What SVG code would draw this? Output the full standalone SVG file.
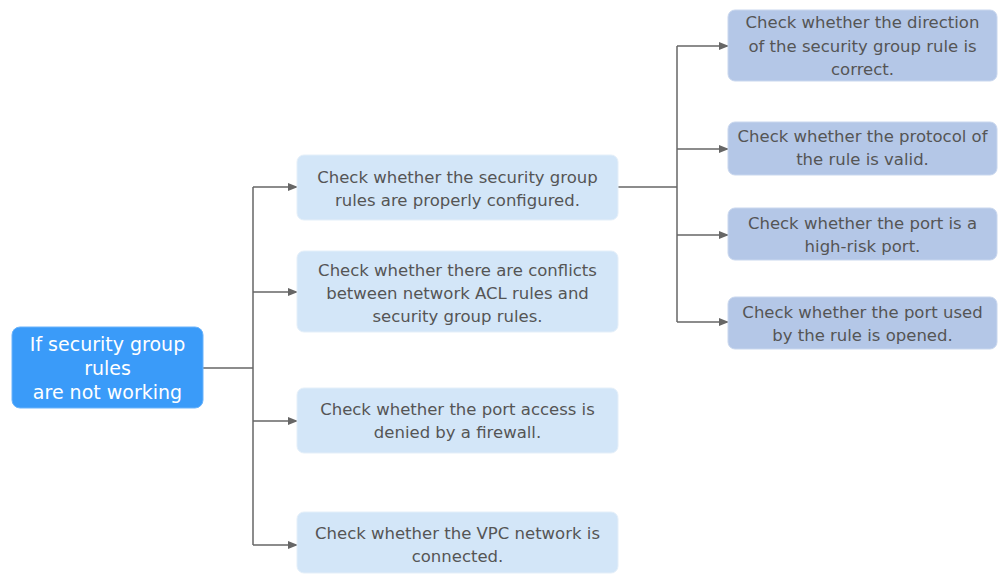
<svg xmlns="http://www.w3.org/2000/svg" width="998" height="575" viewBox="0 0 998 575">
<style>
.root{fill:#3a9bf9;stroke:#6ab3fb;stroke-width:1}
.mid{fill:#d3e6f8;stroke:#e4eff9;stroke-width:1}
.leaf{fill:#b4c7e7;stroke:#c9d7ee;stroke-width:1}
.t{font-family:"DejaVu Sans","Noto Sans",sans-serif;font-size:16.5px;fill:#555555;text-anchor:middle}
.rt{font-family:"DejaVu Sans","Noto Sans",sans-serif;font-size:19px;fill:#ffffff;text-anchor:middle}
.c{fill:none;stroke:#666666;stroke-width:1.5}
</style>
<defs>
<marker id="ah" markerWidth="10" markerHeight="8" refX="9" refY="4" orient="auto" markerUnits="userSpaceOnUse">
<path d="M0,0 L10,4 L0,8 Z" fill="#666666"/>
</marker>
</defs>
<rect width="998" height="575" fill="#ffffff"/>
<g id="connectors">
<path class="c" d="M203,368 H253"/>
<path class="c" d="M253,187 V545"/>
<path class="c" d="M253,187 H297" marker-end="url(#ah)"/>
<path class="c" d="M253,292 H297" marker-end="url(#ah)"/>
<path class="c" d="M253,421 H297" marker-end="url(#ah)"/>
<path class="c" d="M253,545 H297" marker-end="url(#ah)"/>
<path class="c" d="M618,187 H677"/>
<path class="c" d="M677,46 V322"/>
<path class="c" d="M677,46 H728" marker-end="url(#ah)"/>
<path class="c" d="M677,149 H728" marker-end="url(#ah)"/>
<path class="c" d="M677,235 H728" marker-end="url(#ah)"/>
<path class="c" d="M677,322 H728" marker-end="url(#ah)"/>
</g>
<g id="root">
<rect class="root" x="12" y="327" width="191" height="81" rx="8"/>
<text class="rt" x="107.5" y="351">If security group</text>
<text class="rt" x="107.5" y="375">rules</text>
<text class="rt" x="107.5" y="399">are not working</text>
</g>
<g id="n1">
<rect class="mid" x="297" y="155" width="321" height="65" rx="7"/>
<text class="t" x="457.5" y="183">Check whether the security group</text>
<text class="t" x="457.5" y="206">rules are properly configured.</text>
</g>
<g id="n2">
<rect class="mid" x="297" y="251" width="321" height="81" rx="7"/>
<text class="t" x="457.5" y="276">Check whether there are conflicts</text>
<text class="t" x="457.5" y="299">between network ACL rules and</text>
<text class="t" x="457.5" y="322">security group rules.</text>
</g>
<g id="n3">
<rect class="mid" x="297" y="388" width="321" height="65" rx="7"/>
<text class="t" x="457.5" y="415">Check whether the port access is</text>
<text class="t" x="457.5" y="438">denied by a firewall.</text>
</g>
<g id="n4">
<rect class="mid" x="297" y="512" width="321" height="61" rx="7"/>
<text class="t" x="457.5" y="539">Check whether the VPC network is</text>
<text class="t" x="457.5" y="562">connected.</text>
</g>
<g id="a1">
<rect class="leaf" x="728" y="10" width="269" height="71" rx="7"/>
<text class="t" x="862.5" y="28">Check whether the direction</text>
<text class="t" x="862.5" y="52">of the security group rule is</text>
<text class="t" x="862.5" y="75">correct.</text>
</g>
<g id="a2">
<rect class="leaf" x="728" y="122" width="269" height="53" rx="7"/>
<text class="t" x="862.5" y="142">Check whether the protocol of</text>
<text class="t" x="862.5" y="165">the rule is valid.</text>
</g>
<g id="a3">
<rect class="leaf" x="728" y="208" width="269" height="52" rx="7"/>
<text class="t" x="862.5" y="229">Check whether the port is a</text>
<text class="t" x="862.5" y="252">high-risk port.</text>
</g>
<g id="a4">
<rect class="leaf" x="728" y="297" width="269" height="52" rx="7"/>
<text class="t" x="862.5" y="318">Check whether the port used</text>
<text class="t" x="862.5" y="341">by the rule is opened.</text>
</g>
</svg>
